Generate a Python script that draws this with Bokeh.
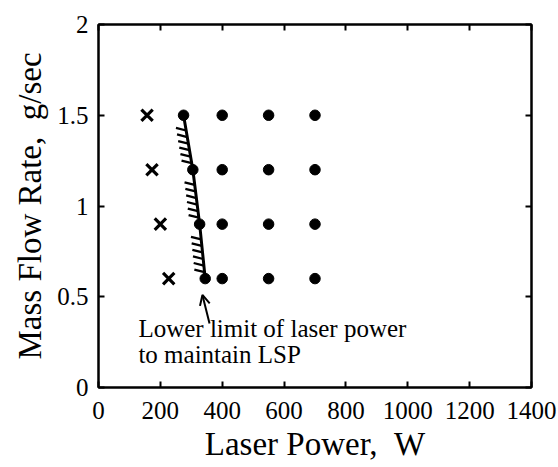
from bokeh.plotting import figure
from bokeh.models import (LinearAxis, Range1d, FixedTicker, Arrow, OpenHead, Label)
from bokeh.embed import file_html
from bokeh.resources import INLINE

FONT = "Liberation Serif"
NBSP = "\u00a0"

# --- data -------------------------------------------------------------
# conditions where the plasma was lost (x) and sustained (dots)
lost_power = [157, 173, 200, 227]
lost_flow = [1.5, 1.2, 0.9, 0.6]

kept_power = [275, 400, 550, 700,
              305, 400, 550, 700,
              327, 400, 550, 700,
              345, 400, 550, 700]
kept_flow = [1.5, 1.5, 1.5, 1.5,
             1.2, 1.2, 1.2, 1.2,
             0.9, 0.9, 0.9, 0.9,
             0.6, 0.6, 0.6, 0.6]

# lower power limit for maintaining LSP
limit_power = [275, 305, 327, 345]
limit_flow = [1.5, 1.2, 0.9, 0.6]

x_ticks = [0, 200, 400, 600, 800, 1000, 1200, 1400]
y_ticks = [0, 0.5, 1, 1.5, 2]
y_tick_labels = ["0", "0.5", "1", "1.5", "2"]

note_lines = ["Lower limit of laser power", "to maintain LSP"]

# --- figure -----------------------------------------------------------
p = figure(width=558, height=467, x_range=Range1d(0, 1400), y_range=Range1d(0, 2),
           output_backend="svg", toolbar_location=None,
           min_border_left=98, min_border_right=27, min_border_top=24,
           min_border_bottom=80)
p.xgrid.visible = False
p.ygrid.visible = False
p.outline_line_color = "black"
p.outline_line_width = 2
p.background_fill_color = "white"
p.border_fill_color = "white"

def style_axis(ax, ticks, show_labels=True):
    ax.ticker = FixedTicker(ticks=ticks)
    ax.axis_line_color = "black"
    ax.axis_line_width = 2
    ax.major_tick_line_color = "black"
    ax.major_tick_line_width = 2
    ax.major_tick_in = 6
    ax.major_tick_out = 0
    ax.minor_tick_line_color = None
    ax.major_label_text_font = FONT
    ax.major_label_text_color = "black"
    ax.major_label_text_font_size = "25px" if show_labels else "1px"
    if not show_labels:
        ax.major_label_text_color = None

xa = p.xaxis[0]
ya = p.yaxis[0]
style_axis(xa, x_ticks)
style_axis(ya, y_ticks)
ya.major_label_overrides = dict(zip(y_ticks, y_tick_labels))
xa.major_label_standoff = 14
ya.major_label_standoff = 10

xa.axis_label = "Laser Power," + NBSP + NBSP + "W"
ya.axis_label = "Mass Flow Rate," + NBSP + NBSP + "g/sec"
for ax in (xa, ya):
    ax.axis_label_text_font = FONT
    ax.axis_label_text_font_style = "normal"
    ax.axis_label_text_font_size = "33px"
    ax.axis_label_text_color = "black"
xa.axis_label_standoff = 4
ya.axis_label_standoff = 6

top = LinearAxis()
style_axis(top, x_ticks, show_labels=False)
p.add_layout(top, "above")
right = LinearAxis()
style_axis(right, y_ticks, show_labels=False)
p.add_layout(right, "right")

# --- boundary line with hatching on the extinguished side -------------
p.line(limit_power, limit_flow, line_color="black", line_width=3)
hx0, hy0, hx1, hy1 = [], [], [], []
fractions = [0.28, 0.40, 0.52, 0.64, 0.76, 0.88]
for i in range(len(limit_power) - 1):
    for t in fractions:
        xs = limit_power[i] + t * (limit_power[i + 1] - limit_power[i])
        ys = limit_flow[i] + t * (limit_flow[i + 1] - limit_flow[i])
        hx0.append(xs)
        hy0.append(ys)
        hx1.append(xs - 33)
        hy1.append(ys + 0.014)
p.segment(hx0, hy0, hx1, hy1, line_color="black", line_width=2.3)

# --- data points --------------------------------------------------------
p.scatter(lost_power, lost_flow, marker="x", size=16, line_color="black",
          line_width=3.2)
p.scatter(kept_power, kept_flow, marker="circle", size=10.5, fill_color="black",
          line_color="black")

# --- annotation ----------------------------------------------------------
arrow_tail = (359, 0.353)
p.add_layout(Arrow(end=OpenHead(size=10, line_width=2, line_color="black"),
                   x_start=arrow_tail[0], y_start=arrow_tail[1],
                   x_end=limit_power[-1] - 9, y_end=limit_flow[-1] - 0.09,
                   line_width=2, line_color="black"))
note_y = [0.327, 0.18]
for txt, yy in zip(note_lines, note_y):
    p.add_layout(Label(x=129, y=yy, text=txt, text_font=FONT,
                       text_font_size="25px", text_color="black",
                       text_baseline="middle", text_align="left"))

open("out.html", "w").write(file_html(p, INLINE))
